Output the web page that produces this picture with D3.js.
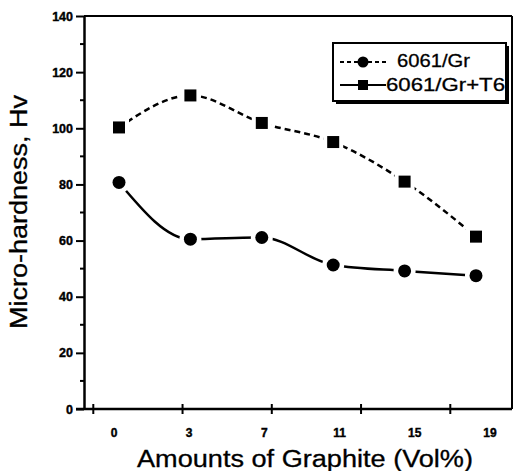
<!DOCTYPE html>
<html>
<head>
<meta charset="utf-8">
<script src="https://cdn.jsdelivr.net/npm/d3@7"></script>
<style>
  html, body { margin: 0; padding: 0; background: #fff; }
  svg { display: block; font-family: "Liberation Sans", Arial, sans-serif; }
</style>
</head>
<body>
<svg id="chart" width="518" height="471"></svg>
<script>
// ---- data ----
const categories = ["0", "3", "7", "11", "15", "19"];
const seriesNames = ["6061/Gr", "6061/Gr+T6"];
const valuesGr = [80.7, 60.5, 61.1, 51.3, 49.2, 47.5];
const valuesGrT6 = [100.3, 111.7, 101.9, 95.1, 81.0, 61.4];
const yTicks = [0, 20, 40, 60, 80, 100, 120, 140];
const yMinorTicks = [10, 30, 50, 70, 90, 110, 130];
const xTickMarks = [-0.36, 0.89, 2.14, 3.39, 4.64];
const xTitle = "Amounts of Graphite (Vol%)";
const yTitle = "Micro-hardness, Hv";

const svg = d3.select("#chart");
const pLeft = 84, pRight = 512, pTop = 16, pBottom = 409;

const y = d3.scaleLinear().domain([0, 140]).range([pBottom, pTop]);
const x = d3.scaleLinear().domain([0, categories.length - 1]).range([119, 476]);
const xLab = d3.scaleLinear().domain([0, categories.length - 1]).range([114, 490]);

// frame: top and right
svg.append("line").attr("x1", pLeft).attr("x2", pRight).attr("y1", pTop).attr("y2", pTop)
  .attr("stroke", "#000").attr("stroke-width", 2);
svg.append("line").attr("x1", pRight).attr("x2", pRight).attr("y1", pTop).attr("y2", pBottom)
  .attr("stroke", "#000").attr("stroke-width", 2);

// y axis
const yAxis = d3.axisLeft(y).tickValues(yTicks).tickSize(8).tickPadding(3).tickSizeOuter(0);
const gy = svg.append("g").attr("transform", `translate(${pLeft},0)`).call(yAxis);
gy.select(".domain").attr("stroke-width", 2.5);
gy.selectAll(".tick line").attr("stroke-width", 2);
gy.selectAll(".tick text").attr("font-size", 12.5).attr("font-weight", "bold")
  .attr("font-family", "'Liberation Sans', Arial, sans-serif")
  .attr("stroke", "#000").attr("stroke-width", 0.4);
svg.append("g").selectAll("line").data(yMinorTicks).join("line")
  .attr("x1", pLeft - 4).attr("x2", pLeft).attr("y1", d => y(d)).attr("y2", d => y(d))
  .attr("stroke", "#000").attr("stroke-width", 2);

// x axis line
svg.append("line").attr("x1", pLeft - 8).attr("x2", pRight).attr("y1", pBottom).attr("y2", pBottom)
  .attr("stroke", "#000").attr("stroke-width", 2.5);
svg.append("g").selectAll("line").data(xTickMarks).join("line")
  .attr("x1", d => x(d)).attr("x2", d => x(d)).attr("y1", pBottom - 5).attr("y2", pBottom + 5)
  .attr("stroke", "#000").attr("stroke-width", 2);
svg.append("g").selectAll("text").data(categories).join("text")
  .attr("x", (d, i) => xLab(i)).attr("y", 437).attr("text-anchor", "middle")
  .attr("font-size", 12).attr("font-weight", "bold")
  .attr("stroke", "#000").attr("stroke-width", 0.4).text(d => d);

// titles
svg.append("text").attr("x", 305).attr("y", 467).attr("text-anchor", "middle")
  .attr("font-size", 23).attr("textLength", 336).attr("lengthAdjust", "spacingAndGlyphs")
  .attr("stroke", "#000").attr("stroke-width", 0.3)
  .text(xTitle);
svg.append("text").attr("transform", "translate(27,212) rotate(-90)").attr("text-anchor", "middle")
  .attr("font-size", 23).attr("textLength", 234).attr("lengthAdjust", "spacingAndGlyphs")
  .attr("stroke", "#000").attr("stroke-width", 0.3)
  .text(yTitle);

// lines
const line = d3.line().x((d, i) => x(i)).y(d => y(d)).curve(d3.curveMonotoneX);

svg.append("path").datum(valuesGrT6).attr("d", line).attr("fill", "none")
  .attr("stroke", "#000").attr("stroke-width", 2.5).attr("stroke-dasharray", "6,4");
svg.append("path").datum(valuesGr).attr("d", line).attr("fill", "none")
  .attr("stroke", "#000").attr("stroke-width", 2.5);

// halos to create gaps
svg.append("g").selectAll("circle").data(valuesGr).join("circle")
  .attr("cx", (d, i) => x(i)).attr("cy", d => y(d)).attr("r", 11).attr("fill", "#fff");
svg.append("g").selectAll("rect").data(valuesGrT6).join("rect")
  .attr("x", (d, i) => x(i) - 10).attr("y", d => y(d) - 10).attr("width", 20).attr("height", 20).attr("fill", "#fff");

// markers
svg.append("g").selectAll("circle").data(valuesGr).join("circle")
  .attr("cx", (d, i) => x(i)).attr("cy", d => y(d)).attr("r", 6.5).attr("fill", "#000");
svg.append("g").selectAll("rect").data(valuesGrT6).join("rect")
  .attr("x", (d, i) => x(i) - 6).attr("y", d => y(d) - 6).attr("width", 12).attr("height", 12).attr("fill", "#000");

// legend
const lg = svg.append("g");
lg.append("rect").attr("x", 336).attr("y", 46).attr("width", 173).attr("height", 58).attr("fill", "#000");
lg.append("rect").attr("x", 333).attr("y", 43).attr("width", 173).attr("height", 58)
  .attr("fill", "#fff").attr("stroke", "#000").attr("stroke-width", 2);
lg.append("line").attr("x1", 340).attr("x2", 388).attr("y1", 62).attr("y2", 62)
  .attr("stroke", "#000").attr("stroke-width", 2).attr("stroke-dasharray", "4,3");
lg.append("circle").attr("cx", 363).attr("cy", 62).attr("r", 5.5).attr("fill", "#000");
lg.append("line").attr("x1", 340).attr("x2", 386).attr("y1", 85).attr("y2", 85)
  .attr("stroke", "#000").attr("stroke-width", 2);
lg.append("rect").attr("x", 358).attr("y", 80).attr("width", 10).attr("height", 10).attr("fill", "#000");
lg.append("text").attr("x", 397).attr("y", 67).attr("font-size", 19)
  .attr("stroke", "#000").attr("stroke-width", 0.3)
  .attr("textLength", 73).attr("lengthAdjust", "spacingAndGlyphs").text(seriesNames[0]);
lg.append("text").attr("x", 386).attr("y", 91).attr("font-size", 19)
  .attr("stroke", "#000").attr("stroke-width", 0.3)
  .attr("textLength", 119).attr("lengthAdjust", "spacingAndGlyphs").text(seriesNames[1]);
</script>
</body>
</html>
